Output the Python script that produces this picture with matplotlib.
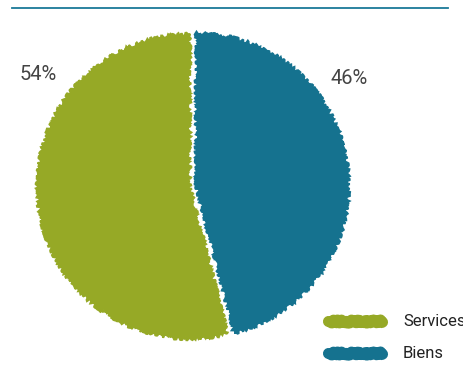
import matplotlib.pyplot as plt

# Share of goods vs services
labels = ['Biens', 'Services']
shares = [46, 54]
colors = ['#15728F', '#96A926']
pct_labels = ['46%', '54%']

plt.rcParams['font.family'] = ['Roboto', 'DejaVu Sans']

fig = plt.figure(figsize=(4.64, 3.87), dpi=100)
ax = fig.add_axes([0, 0, 1, 1])

# rule across the top
ax.plot([12, 448], [379, 379], color='#1A7A98', lw=1.3)

wedges, _ = ax.pie(shares, colors=colors, startangle=90, counterclock=False,
                   center=(193, 201), radius=152, explode=[3.5, 3.5],
                   frame=True, wedgeprops=dict(linewidth=1.5))
for w, c in zip(wedges, colors):
    w.set_edgecolor(c)
    w.set_sketch_params(scale=1.8, length=4, randomness=12)

ax.set_xlim(0, 464)
ax.set_ylim(0, 387)
ax.set_aspect('equal')
ax.axis('off')

ax.text(20, 313, pct_labels[1], fontsize=14.5, color='#444444', va='center')
ax.text(331, 309, pct_labels[0], fontsize=14.5, color='#444444', va='center')

# legend drawn by hand: rough strokes plus labels
leg_y = [34, 66]
for y, c, lab in zip(leg_y, colors, labels):
    ln, = ax.plot([328, 382], [y, y], color=c, lw=8, solid_capstyle='round')
    ln.set_sketch_params(scale=1.5, length=4, randomness=12)
    ax.text(403, y, lab, fontsize=12, color='#222222', va='center')

fig.savefig('out.png', dpi=100)
